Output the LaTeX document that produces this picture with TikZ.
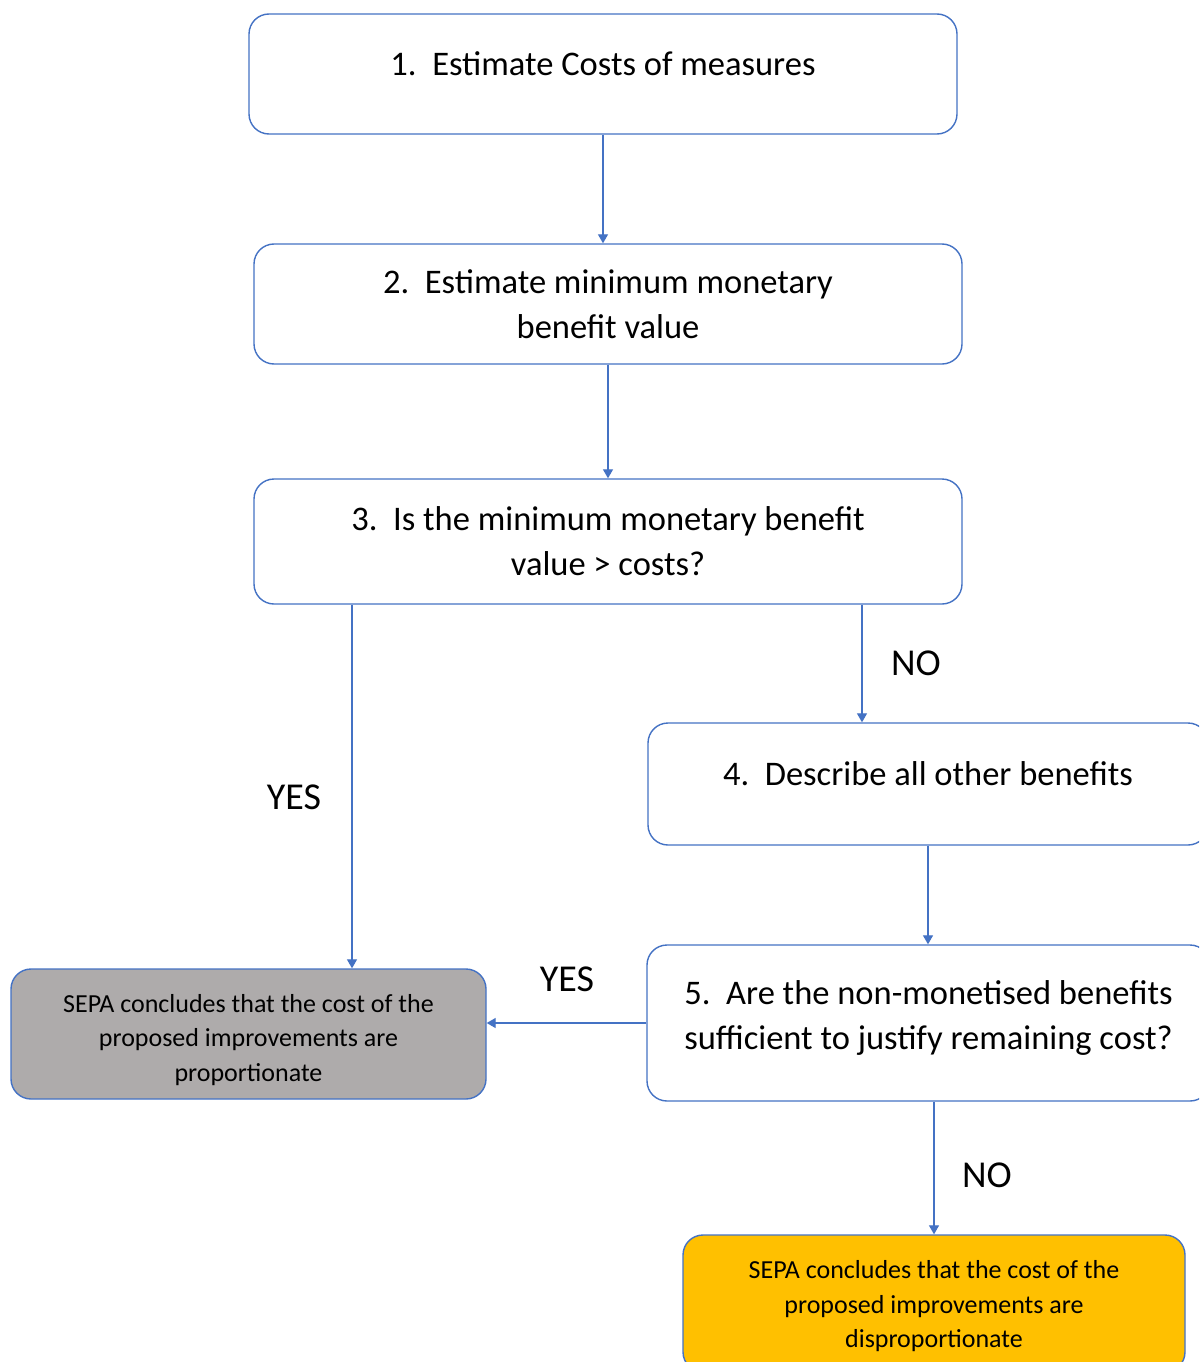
\documentclass[tikz,border=0pt]{standalone}
\usepackage{fontspec}
\setmainfont{Carlito}
\usetikzlibrary{arrows.meta}
\definecolor{lineblue}{HTML}{4472C4}
\definecolor{boxgrey}{HTML}{AEABAB}
\definecolor{boxyellow}{HTML}{FFC000}
\newcommand{\upby}[2]{\raisebox{#1}[\height][\depth]{#2}}
\newcommand{\stack}[1]{\begin{tabular}{@{}c@{}}#1\end{tabular}}
\tikzset{
  stepbox/.style={draw=lineblue, line width=1.4pt, rounded corners=20pt, fill=white,
    align=center, inner sep=0pt, font=\fontsize{34.5}{45}\selectfont},
  endbox/.style={stepbox, font=\fontsize{26}{34.5}\selectfont},
  arr/.style={draw=lineblue, line width=1.3pt, -{Triangle[length=9pt,width=10pt]}},
  lbl/.style={font=\fontsize{38}{42}\selectfont, inner sep=0pt}
}
\begin{document}
\begin{tikzpicture}[x=1pt,y=-1pt]
\useasboundingbox (0,0) rectangle (1199,1362);
\clip (0,0) rectangle (1199,1362);
\fill[white] (0,0) rectangle (1199,1362);

\node[stepbox, minimum width=708pt, minimum height=120pt] (b1) at (603,74)
  {\upby{10pt}{1.\ \ Estimate Costs of measures}};
\node[stepbox, minimum width=708pt, minimum height=120pt] (b2) at (608,304)
  {2.\ \ Estimate minimum monetary\\benefit value};
\node[stepbox, minimum width=708pt, minimum height=125pt] (b3) at (608,541.5)
  {3.\ \ Is the minimum monetary benefit\\value > costs?};
\node[stepbox, minimum width=560pt, minimum height=122pt] (b4) at (928,784)
  {\upby{10pt}{4.\ \ Describe all other benefits}};
\node[stepbox, minimum width=563pt, minimum height=156pt] (b5) at (928.5,1023)
  {\upby{5pt}{\stack{5.\ \ Are the non-monetised benefits\\sufficient to justify remaining cost?}}};
\node[endbox, fill=boxgrey, minimum width=475pt, minimum height=130pt] (grey) at (248.5,1034)
  {\upby{-6pt}{\stack{SEPA concludes that the cost of the\\proposed improvements are\\proportionate}}};
\node[endbox, fill=boxyellow, minimum width=502pt, minimum height=137pt] (yel) at (934,1303.5)
  {\upby{-3pt}{\stack{SEPA concludes that the cost of the\\proposed improvements are\\disproportionate}}};

\coordinate (xyes) at (352,0);
\coordinate (xno) at (862,0);

\draw[arr] (b1.south) -- (b1.south |- b2.north);
\draw[arr] (b2.south) -- (b2.south |- b3.north);
\draw[arr] (b3.south -| xyes) -- (grey.north -| xyes);
\draw[arr] (b3.south -| xno) -- (b4.north -| xno);
\draw[arr] (b4.south) -- (b4.south |- b5.north);
\draw[arr] (b5.west) -- (b5.west -| grey.east);
\draw[arr] (b5.south -| yel.north) -- (yel.north);

\node[lbl] (yes1) at (294,797) {YES};
\node[lbl] (no1) at (916,663) {NO};
\node[lbl] (yes2) at (567,979) {YES};
\node[lbl] (no2) at (987,1175) {NO};
\end{tikzpicture}
\end{document}
